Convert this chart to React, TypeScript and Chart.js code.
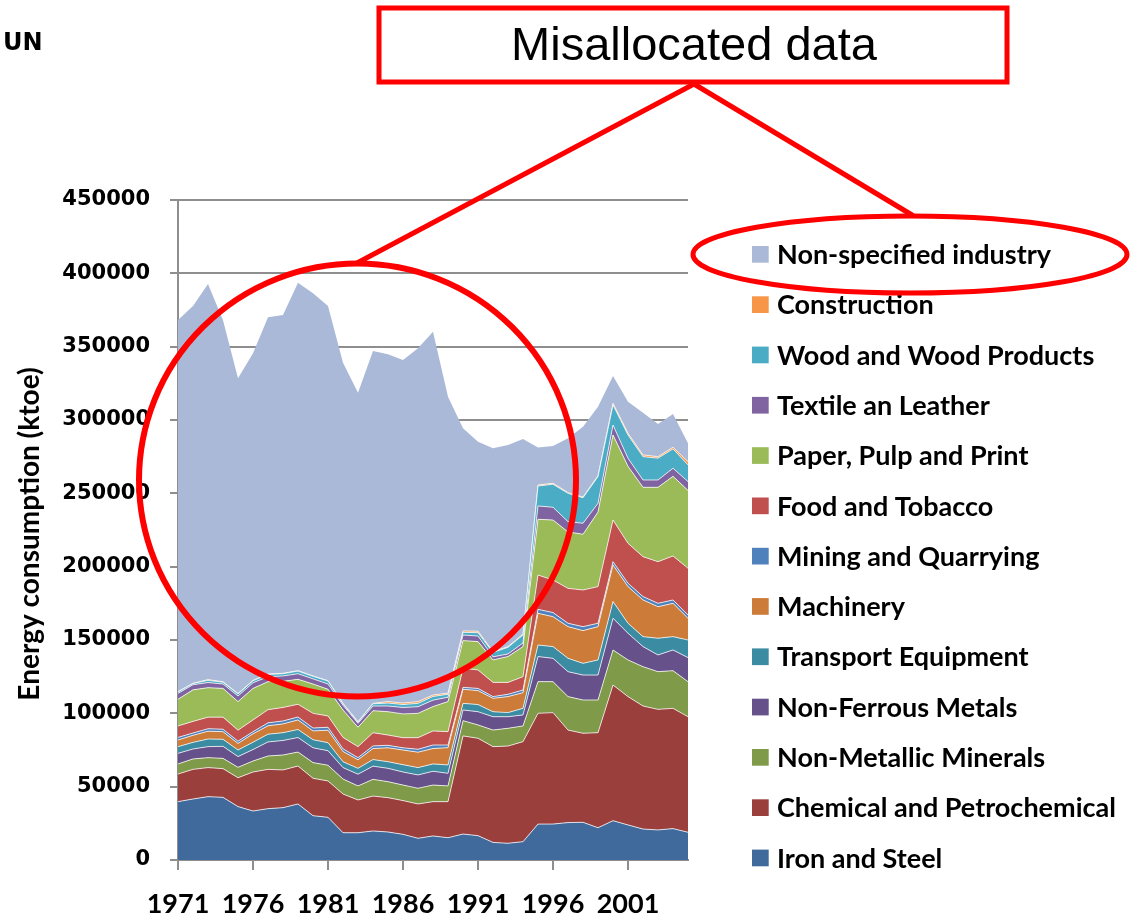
import React, { useEffect, useRef } from 'react';
import { Chart, registerables } from 'chart.js';

Chart.register(...registerables);

// Categories
const years = ['1971', '1972', '1973', '1974', '1975', '1976', '1977', '1978', '1979', '1980',
  '1981', '1982', '1983', '1984', '1985', '1986', '1987', '1988', '1989', '1990',
  '1991', '1992', '1993', '1994', '1995', '1996', '1997', '1998', '1999', '2000',
  '2001', '2002', '2003', '2004', '2005'];

// Series values (ktoe), bottom of the stack first
const ironSteel = [39800, 41600, 43200, 42700, 36400, 33400, 35000, 35700, 38200, 30200, 29100, 18600, 18600, 19800, 19100, 17500, 14800, 16400, 15200, 17700, 16600, 12000, 11400, 12500, 24500, 24500, 25500, 25700, 22000, 26800, 23900, 21100, 20500, 21400, 18900];
const chemical = [18800, 20200, 19800, 19600, 19700, 26600, 26800, 25700, 25900, 25500, 24800, 26400, 22300, 23800, 23400, 23000, 23400, 23400, 24600, 66900, 66400, 65300, 66300, 68200, 75500, 76000, 63100, 60700, 64800, 92500, 87500, 83900, 82200, 82000, 78800];
const nonMetallic = [6900, 7100, 6800, 7000, 7100, 7500, 9100, 10200, 9500, 10700, 10700, 10200, 9600, 11400, 10900, 10600, 10700, 11300, 10700, 10400, 9100, 11300, 12100, 10700, 21600, 21100, 22800, 22700, 22300, 23900, 25000, 26800, 25700, 25700, 23900];
const nonFerrous = [7200, 6800, 7500, 8200, 7300, 7800, 9600, 9900, 9900, 10100, 9900, 7800, 8000, 9000, 9100, 8900, 9100, 9400, 8600, 7300, 9000, 9100, 7900, 7500, 17100, 15900, 17000, 17000, 17000, 21600, 18200, 13700, 11400, 14100, 16400];
const transport = [4600, 4500, 5200, 4800, 4500, 5000, 5300, 5300, 5500, 5500, 5500, 4000, 4000, 4500, 4500, 5000, 5000, 5000, 5700, 4500, 4900, 3400, 2800, 4500, 7900, 8000, 9100, 8000, 10300, 11400, 6800, 6800, 11400, 9100, 12000];
const machinery = [4500, 4800, 5300, 5200, 4500, 5700, 5700, 6000, 6500, 6000, 8500, 7000, 5800, 7500, 9500, 10000, 10500, 10500, 11800, 9600, 9500, 9100, 10900, 10700, 21600, 20400, 21600, 22300, 22700, 25000, 25000, 25000, 21500, 22700, 14800];
const mining = [1800, 1600, 1700, 1700, 1500, 1500, 2000, 2000, 2000, 2000, 2000, 1800, 1500, 1800, 1700, 1500, 2000, 2400, 1800, 1300, 1500, 1200, 1600, 1800, 2700, 2800, 2300, 2700, 2300, 2200, 2300, 2300, 2300, 2300, 2300];
const food = [7800, 7900, 7900, 8200, 7500, 8000, 9000, 9200, 8700, 10000, 7700, 7800, 7500, 9000, 7000, 6900, 7900, 9600, 9100, 13000, 12600, 9700, 8100, 9100, 23400, 22200, 23800, 25000, 25000, 28400, 27200, 27200, 28400, 30000, 31800];
const paper = [18200, 21500, 20100, 19600, 19500, 21500, 19100, 17800, 17000, 20000, 18200, 18700, 13200, 15000, 15900, 16200, 16600, 16600, 20500, 18900, 19300, 15300, 17600, 20500, 38000, 40900, 38500, 38000, 50800, 58000, 52500, 47300, 50700, 54300, 53100];
const textile = [4000, 3500, 3500, 3000, 3800, 3800, 3400, 3700, 3800, 3500, 3600, 3200, 2700, 3200, 3900, 4400, 4500, 4400, 3000, 3800, 3800, 2100, 1800, 2500, 9100, 8700, 7000, 7500, 6000, 6800, 5500, 5000, 5000, 5500, 6000];
const wood = [1000, 800, 1500, 1200, 1400, 1400, 1500, 1500, 1800, 1700, 2000, 1000, 800, 1500, 2000, 2000, 2300, 2500, 2000, 1800, 2300, 3000, 4500, 5400, 13600, 15700, 19300, 17400, 18200, 13700, 15900, 15900, 14900, 13200, 11400];
const construction = [200, 200, 500, 300, 300, 300, 300, 300, 300, 300, 300, 300, 300, 300, 1000, 1000, 1200, 1000, 800, 1000, 1000, 500, 500, 600, 700, 700, 500, 500, 600, 1100, 1100, 1200, 1000, 1100, 2200];
const nonSpecified = [253400, 257200, 269700, 246500, 214900, 223000, 243200, 244300, 264500, 260900, 255400, 232300, 224300, 240200, 236800, 233900, 240900, 247700, 202100, 138100, 129200, 138700, 137500, 133000, 25600, 25400, 37000, 47900, 47100, 18600, 21600, 28800, 22300, 22700, 12500];

const seriesNames = ['Iron and Steel', 'Chemical and Petrochemical', 'Non-Metallic Minerals', 'Non-Ferrous Metals',
  'Transport Equipment', 'Machinery', 'Mining and Quarrying', 'Food and Tobacco', 'Paper, Pulp and Print',
  'Textile an Leather', 'Wood and Wood Products', 'Construction', 'Non-specified industry'];
const seriesValues = [ironSteel, chemical, nonMetallic, nonFerrous, transport, machinery, mining, food, paper,
  textile, wood, construction, nonSpecified];
const seriesColors = ['#416A9C', '#9B3F3D', '#7F9A48', '#67518A', '#3B8CA3', '#CC7B38', '#4F81BD', '#C0504D',
  '#9BBB59', '#8064A2', '#4BACC6', '#F79646', '#AAB9D7'];

const yTicks = [0, 50000, 100000, 150000, 200000, 250000, 300000, 350000, 400000, 450000];

const RED = '#FF0000';
const GRID = '#8E8E8E';

const overlayPlugin = {
  id: 'overlay',
  afterDraw(chart: any) {
    const ctx = chart.ctx as CanvasRenderingContext2D;
    ctx.save();

    // "UN" label
    ctx.fillStyle = '#000';
    ctx.font = 'bold 24px "DejaVu Sans"';
    ctx.textAlign = 'left';
    ctx.textBaseline = 'middle';
    ctx.fillText('UN', 3, 44);

    // Y axis title
    ctx.save();
    ctx.translate(30, 534);
    ctx.rotate(-Math.PI / 2);
    ctx.font = 'bold 28px Lato';
    ctx.textAlign = 'center';
    ctx.textBaseline = 'middle';
    ctx.fillText('Energy consumption (ktoe)', 0, 0);
    ctx.restore();

    // Legend (top of stack first)
    ctx.font = 'bold 27px Lato';
    ctx.textAlign = 'left';
    ctx.textBaseline = 'middle';
    for (let k = 0; k < seriesNames.length; k++) {
      const idx = seriesNames.length - 1 - k;
      const cy = 254.3 + k * 50.3;
      ctx.fillStyle = seriesColors[idx];
      ctx.fillRect(752, cy - 8.3, 16.7, 16.7);
      ctx.fillStyle = '#000';
      ctx.fillText(seriesNames[idx], 777, cy + 1);
    }

    // Title box
    ctx.strokeStyle = RED;
    ctx.lineWidth = 5;
    ctx.fillStyle = '#fff';
    ctx.fillRect(379, 8, 628, 74);
    ctx.strokeRect(379, 8, 628, 74);
    ctx.fillStyle = '#000';
    ctx.font = '47px "Liberation Sans"';
    ctx.textAlign = 'center';
    ctx.textBaseline = 'middle';
    ctx.fillText('Misallocated data', 694, 47);

    // Connector lines
    ctx.lineCap = 'round';
    ctx.beginPath();
    ctx.moveTo(694, 84);
    ctx.lineTo(357, 263);
    ctx.moveTo(694, 84);
    ctx.lineTo(912, 215);
    ctx.stroke();

    // Big circle
    ctx.lineWidth = 6;
    ctx.beginPath();
    ctx.ellipse(357.5, 480, 218.5, 216.5, 0, 0, Math.PI * 2);
    ctx.stroke();

    // Legend ellipse
    ctx.lineWidth = 5;
    ctx.beginPath();
    ctx.ellipse(910, 254.5, 217, 38.5, 0, 0, Math.PI * 2);
    ctx.stroke();

    ctx.restore();
  },
};

export default function App() {
  const canvasRef = useRef<HTMLCanvasElement | null>(null);

  useEffect(() => {
    if (!canvasRef.current) return;
    const datasets = seriesValues.map((vals, i) => ({
      label: seriesNames[i],
      data: vals,
      backgroundColor: seriesColors[i],
      borderColor: i === seriesValues.length - 1 ? 'rgba(0,0,0,0)' : 'rgba(255,255,255,0.75)',
      borderWidth: i === seriesValues.length - 1 ? 0 : 1,
      fill: i === 0 ? 'origin' : '-1',
      pointRadius: 0,
      tension: 0,
    }));

    const chart = new Chart(canvasRef.current, {
      type: 'line',
      data: { labels: years, datasets },
      options: {
        responsive: false,
        animation: false,
        devicePixelRatio: 1,
        layout: { padding: { left: 0, top: 200, right: 442, bottom: 0 } },
        plugins: {
          legend: { display: false },
          tooltip: { enabled: false },
          title: { display: false },
        },
        elements: { point: { radius: 0 }, line: { tension: 0 } },
        scales: {
          x: {
            type: 'category',
            offset: false,
            grid: {
              display: true,
              drawOnChartArea: false,
              drawTicks: true,
              tickLength: 10,
              color: GRID,
              lineWidth: 2,
            },
            border: { display: true, color: GRID, width: 2 },
            ticks: {
              autoSkip: false,
              maxRotation: 0,
              minRotation: 0,
              padding: 18,
              color: '#000',
              font: { family: 'Lato', weight: 'bold', size: 27 },
              callback: (_v: any, i: number) => (i % 5 === 0 ? years[i] : null),
            },
            afterFit: (s: any) => { s.height = 60; },
          },
          y: {
            stacked: true,
            min: 0,
            max: 450000,
            afterBuildTicks: (s: any) => { s.ticks = yTicks.map((v) => ({ value: v })); },
            grid: {
              display: true,
              drawOnChartArea: true,
              drawTicks: true,
              tickLength: 8,
              color: GRID,
              lineWidth: 2,
            },
            border: { display: true, color: GRID, width: 2 },
            ticks: {
              padding: 20,
              color: '#000',
              font: { family: 'DejaVu Sans', weight: 'bold', size: 21 },
              callback: (v: any) => String(v),
            },
            afterFit: (s: any) => { s.width = 178; },
          },
        },
      },
      plugins: [overlayPlugin],
    } as any);

    return () => chart.destroy();
  }, []);

  return (
    <div style={{ position: 'absolute', left: 0, top: 0, width: 1130, height: 920, background: '#fff' }}>
      <canvas ref={canvasRef} width={1130} height={920} style={{ display: 'block', width: 1130, height: 920 }} />
    </div>
  );
}
